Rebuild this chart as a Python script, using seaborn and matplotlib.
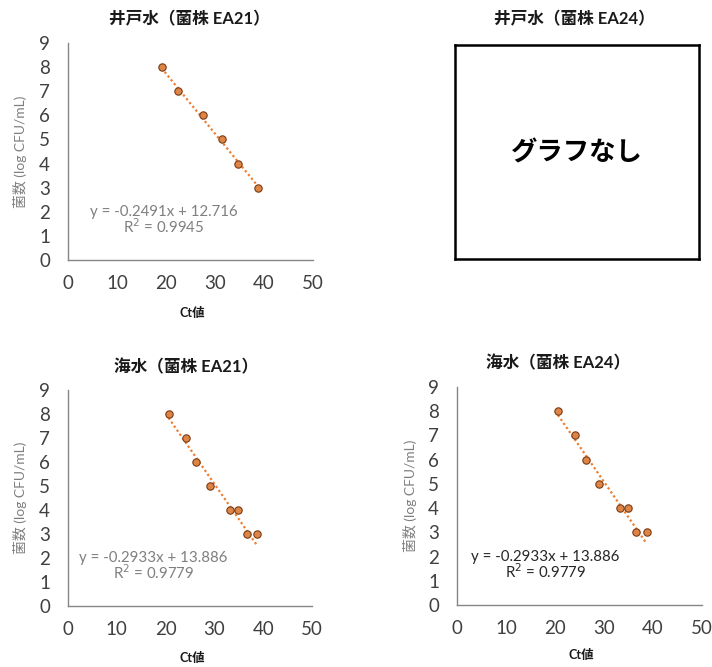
import numpy as np
import pandas as pd
import matplotlib
matplotlib.use("Agg")
import matplotlib.pyplot as plt
import seaborn as sns

sns.set_theme(style="white")
plt.rcParams["font.family"] = ["Lato", "Noto Sans CJK JP", "DejaVu Sans"]

# Well water, strain EA21
well21_ct = [19.1, 22.4, 27.6, 31.5, 34.6, 38.8]
well21_log = [8, 7, 6, 5, 4, 3]
well21_fit = (-0.2491, 12.716, 0.9945)

# Seawater, strain EA21
sea21_ct = [20.6, 24.1, 26.3, 29.0, 33.2, 34.8, 36.6, 38.7]
sea21_log = [8, 7, 6, 5, 4, 4, 3, 3]
sea21_fit = (-0.2933, 13.886, 0.9779)

# Seawater, strain EA24
sea24_ct = [20.6, 24.1, 26.3, 29.0, 33.2, 34.8, 36.6, 38.7]
sea24_log = [8, 7, 6, 5, 4, 4, 3, 3]
sea24_fit = (-0.2933, 13.886, 0.9779)

titles = ["井戸水（菌株 EA21）", "井戸水（菌株 EA24）", "海水（菌株 EA21）", "海水（菌株 EA24）"]
xticks = [0, 10, 20, 30, 40, 50]
yticks = list(range(0, 10))

W, H = 712, 667
fig = plt.figure(figsize=(W / 100, H / 100), dpi=100)
fig.patch.set_facecolor("white")


def px_axes(left, right, top, bottom):
    return fig.add_axes([left / W, 1 - bottom / H, (right - left) / W, (bottom - top) / H])


def ftext(x, y, s, **kw):
    fig.text(x / W, 1 - y / H, s, ha="center", va="center", **kw)


def panel(box, ct, logc, fit, eq_pos, eq_color, ylab_x, xlab_y, title, title_pos):
    ax = px_axes(*box)
    df = pd.DataFrame({"ct": ct, "log": logc})
    slope, icpt, r2 = fit
    xs = np.array([min(ct), max(ct)])
    ax.plot(xs, slope * xs + icpt, color="#ED7D31", lw=1.6,
            linestyle=(0, (1, 1.2)), zorder=2)
    sns.scatterplot(data=df, x="ct", y="log", ax=ax, s=28, color="#DD8447",
                    edgecolor="#7A3A12", linewidth=0.8, zorder=3)
    ax.set_xlim(0, 50)
    ax.set_ylim(0, 9)
    ax.set_xticks(xticks)
    ax.set_yticks(yticks)
    ax.set_xlabel("")
    ax.set_ylabel("")
    for s in ["top", "right"]:
        ax.spines[s].set_visible(False)
    for s in ["left", "bottom"]:
        ax.spines[s].set_color("#868686")
        ax.spines[s].set_linewidth(1.0)
    ax.tick_params(axis="both", direction="out", length=4, width=1.0,
                   color="#868686", labelsize=13.5, labelcolor="#404040")
    ax.tick_params(axis="y", pad=9)
    ax.tick_params(axis="x", pad=7)
    ax.set_facecolor("white")
    ex, ey = eq_pos
    sign = "+" if icpt >= 0 else "-"
    ax.text(ex, ey, f"y = {slope:.4f}x {sign} {abs(icpt):.3f}", color=eq_color,
            fontsize=10.8, ha="center", va="center", transform=ax.transData)
    ax.text(ex, ey - 0.62, f"R$^2$ = {r2:.4f}", color=eq_color,
            fontsize=10.8, ha="center", va="center", transform=ax.transData)
    cy = (box[2] + box[3]) / 2
    ftext(ylab_x, cy, "菌数 (log CFU/mL)", rotation=90, fontsize=10,
          color="#7f7f7f")
    ftext((box[0] + box[1]) / 2 + 2, xlab_y, "Ct値", fontsize=9,
          fontweight="bold", color="#1a1a1a")
    ftext(title_pos[0], title_pos[1], title, fontsize=12, fontweight="bold",
          color="#1a1a1a")
    return ax


panel((68, 313, 43, 260), well21_ct, well21_log, well21_fit, (19.5, 2.0),
      "#7f7f7f", 20, 313, titles[0], (189, 19))
panel((68, 312, 390, 606), sea21_ct, sea21_log, sea21_fit, (17.5, 2.0),
      "#7f7f7f", 20, 658, titles[2], (186, 367))
panel((457, 702, 387, 605), sea24_ct, sea24_log, sea24_fit, (18.0, 2.0),
      "#262626", 410, 655, titles[3], (558, 363))

# Placeholder panel: no chart for well water, strain EA24
box_ax = px_axes(455, 699, 45, 259)
box_ax.set_xticks([])
box_ax.set_yticks([])
for s in box_ax.spines.values():
    s.set_visible(True)
    s.set_color("black")
    s.set_linewidth(1.8)
box_ax.text(0.5, 0.5, "グラフなし", transform=box_ax.transAxes, ha="center",
            va="center", fontsize=19, fontweight="bold", color="black")
ftext(574, 19, titles[1], fontsize=12, fontweight="bold", color="#1a1a1a")

fig.savefig("out.png", dpi=100, facecolor="white")
